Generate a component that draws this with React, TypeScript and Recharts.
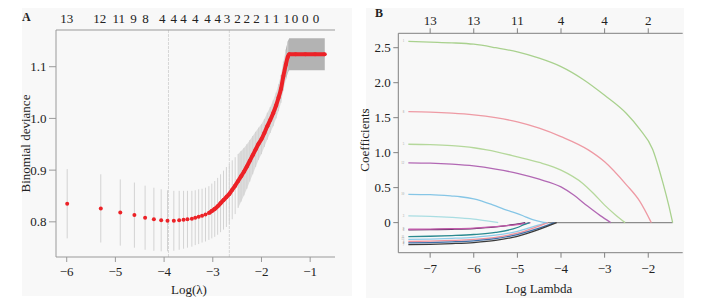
import React from 'react';
import {
  ComposedChart,
  Line,
  Scatter,
  Area,
  XAxis,
  YAxis,
  ErrorBar,
  ReferenceLine,
  Label,
} from 'recharts';

const FONT = '"Liberation Serif", "Times New Roman", serif';
const TEXT = '#222';

// ---------------- Panel A: cross-validation curve ----------------
const cvLogLambda = [
  -5.99, -5.3, -4.9, -4.61, -4.39, -4.21, -4.06, -3.93, -3.8, -3.69, -3.6, -3.52, -3.43, -3.36, -3.29,
  -3.22, -3.15, -3.08, -3.02, -2.96, -2.9, -2.84, -2.78, -2.72, -2.66, -2.6, -2.54, -2.48, -2.42,
  -2.36, -2.3, -2.24, -2.18, -2.12, -2.06, -2.0, -1.94, -1.88, -1.82, -1.76, -1.7, -1.65, -1.6,
  -1.55, -1.5, -1.46, -1.43, -1.3, -1.1, -0.9, -0.7,
];
const cvDeviance = [
  0.835, 0.826, 0.818, 0.813, 0.808, 0.805, 0.803, 0.802, 0.802, 0.803, 0.804, 0.805, 0.806, 0.808, 0.81,
  0.812, 0.814, 0.817, 0.821, 0.825, 0.83, 0.836, 0.842, 0.848, 0.854, 0.862, 0.87, 0.879, 0.888,
  0.897, 0.907, 0.918, 0.929, 0.94, 0.951, 0.96, 0.972, 0.985, 0.997, 1.01, 1.025, 1.04, 1.057,
  1.082, 1.104, 1.119, 1.124, 1.124, 1.124, 1.124, 1.124,
];
const cvSE = [
  0.067, 0.066, 0.064, 0.063, 0.062, 0.061, 0.06, 0.059, 0.058, 0.057, 0.056, 0.055, 0.054, 0.053, 0.053,
  0.052, 0.052, 0.052, 0.053, 0.054, 0.055, 0.056, 0.057, 0.058, 0.058, 0.057, 0.055, 0.052, 0.049,
  0.046, 0.043, 0.04, 0.037, 0.034, 0.031, 0.029, 0.027, 0.026, 0.025, 0.025, 0.025, 0.026, 0.027,
  0.028, 0.029, 0.03, 0.031, 0.031, 0.031, 0.031, 0.031,
];
const cvTopPositions = [
  -6.0, -5.32, -4.93, -4.63, -4.38, -4.04, -3.8, -3.6, -3.36, -3.11, -2.9, -2.71, -2.49, -2.3, -2.1,
  -1.89, -1.7, -1.48, -1.31, -1.1, -0.88,
];
const cvTopLabels = [
  '13', '12', '11', '9', '8', '4', '4', '4', '4', '4', '4', '3', '2', '2', '2', '1', '1', '1', '0', '0', '0',
];
const cvXTicks = [-6, -5, -4, -3, -2, -1];
const cvYTicks = [0.8, 0.9, 1.0, 1.1];
const cvLambdaMin = -3.91;
const cvLambda1se = -2.66;
const cvXDomain = [-6.22, -0.49];
const cvYDomain = [0.732, 1.171];

// ---------------- Panel B: coefficient paths ----------------
const pathXTicks = [-7, -6, -5, -4, -3, -2];
const pathTopLabels = ['13', '13', '11', '4', '4', '2'];
const pathYTicks = [0, 0.5, 1.0, 1.5, 2.0, 2.5];
const pathXDomain = [-7.73, -1.21];
const pathYDomain = [-0.43, 2.706];

const coef1 = [[-7.5, 2.59], [-7, 2.58], [-6.5, 2.57], [-6, 2.55], [-5.5, 2.5], [-5, 2.44], [-4.5, 2.35], [-4, 2.23], [-3.5, 2.05], [-3, 1.82], [-2.5, 1.56], [-2.2, 1.34], [-1.9, 1.05], [-1.66, 0.56], [-1.52, 0.22], [-1.44, 0]];
const coef8 = [[-7.5, 1.586], [-7, 1.58], [-6.5, 1.565], [-6, 1.54], [-5.5, 1.5], [-5, 1.44], [-4.5, 1.35], [-4, 1.23], [-3.375, 1.04], [-3, 0.87], [-2.5, 0.54], [-2.2, 0.31], [-1.93, 0]];
const coef5 = [[-7.5, 1.12], [-7, 1.115], [-6.5, 1.1], [-6, 1.07], [-5.7, 1.04], [-5, 0.94], [-4.5, 0.86], [-4, 0.75], [-3.5, 0.56], [-3.26, 0.42], [-3, 0.25], [-2.75, 0.11], [-2.53, 0]];
const coef12 = [[-7.5, 0.855], [-7, 0.85], [-6.5, 0.835], [-6, 0.81], [-5.5, 0.765], [-5, 0.705], [-4.5, 0.62], [-4, 0.51], [-3.7, 0.39], [-3.4, 0.24], [-3.1, 0.1], [-2.86, 0]];
const coef10 = [[-7.5, 0.405], [-7, 0.4], [-6.5, 0.38], [-6.31, 0.37], [-6, 0.34], [-5.55, 0.25], [-5.3, 0.19], [-5, 0.13], [-4.8, 0.08], [-4.63, 0.04], [-4.45, 0.012], [-4.33, 0]];
const coef3 = [[-7.5, 0.096], [-7, 0.09], [-6.5, 0.075], [-6, 0.05], [-5.7, 0.025], [-5.44, 0]];
const coef6 = [[-7.5, -0.105], [-7, -0.1], [-6.5, -0.095], [-6, -0.085], [-5.5, -0.062], [-5.1, -0.03], [-4.82, 0]];
const coef9 = [[-7.5, -0.095], [-7, -0.092], [-6.5, -0.087], [-6, -0.078], [-5.5, -0.058], [-5, -0.028], [-4.7, 0]];
const coef11 = [[-7.5, -0.2], [-7, -0.195], [-6.5, -0.185], [-6, -0.17], [-5.5, -0.14], [-5, -0.07], [-4.85, -0.03], [-4.72, 0]];
const coef13 = [[-7.5, -0.24], [-7, -0.235], [-6.5, -0.225], [-6, -0.21], [-5.5, -0.18], [-5, -0.125], [-4.6, -0.05], [-4.3, 0]];
const coef4 = [[-7.5, -0.27], [-7, -0.265], [-6.5, -0.255], [-6, -0.24], [-5.5, -0.21], [-5, -0.15], [-4.6, -0.07], [-4.3, 0]];
const coef2 = [[-7.5, -0.29], [-7, -0.285], [-6.5, -0.275], [-6, -0.26], [-5.5, -0.23], [-5, -0.17], [-4.5, -0.08], [-4.15, 0]];
const coef7 = [[-7.5, -0.315], [-7, -0.31], [-6.5, -0.3], [-6, -0.285], [-5.5, -0.255], [-5, -0.195], [-4.5, -0.095], [-4.1, 0]];
const coefZero = [[-4.35, 0], [-1.44, 0]];

const pathSeries = [
  { name: '3', pts: coef3, color: '#a9dde2' },
  { name: '6', pts: coef6, color: '#5c2a60' },
  { name: '9', pts: coef9, color: '#c25cab' },
  { name: '11', pts: coef11, color: '#2a8a90' },
  { name: '13', pts: coef13, color: '#8ecbe9' },
  { name: '4', pts: coef4, color: '#f0919b' },
  { name: '2', pts: coef2, color: '#3e6ea8' },
  { name: '7', pts: coef7, color: '#3b3b3b' },
  { name: '10', pts: coef10, color: '#86c6e6' },
  { name: '12', pts: coef12, color: '#b268b4' },
  { name: '5', pts: coef5, color: '#b5d89b' },
  { name: '8', pts: coef8, color: '#ee9aa4' },
  { name: '1', pts: coef1, color: '#a9d18e' },
];

// ---------------- helpers ----------------
const minus = (v: number) => String(v).replace('-', '\u2212');

const TitleY = (props: any) => {
  const { viewBox, value, cx, cy } = props;
  const y = cy ?? viewBox.y + viewBox.height / 2;
  return (
    <text x={cx} y={y} transform={`rotate(-90 ${cx} ${y})`} textAnchor="middle" dominantBaseline="central" fontFamily={FONT} fontSize={13} fill={TEXT}>
      {value}
    </text>
  );
};

const TitleX = (props: any) => {
  const { value, cx, cy } = props;
  return (
    <text x={cx} y={cy} textAnchor="middle" dominantBaseline="central" fontFamily={FONT} fontSize={13} fill={TEXT}>
      {value}
    </text>
  );
};

const tickStyle = { fill: TEXT, fontSize: 13, fontFamily: FONT };

const cvPoints = cvLogLambda.map((x, i) => ({ x, y: cvDeviance[i], err: cvSE[i] }));
const cvBarPoints = cvPoints.filter((p) => p.x < -1.45);
const cvLinePoints = cvPoints.filter((p) => p.x >= -3.1);
const cvBand = cvPoints
  .filter((p) => p.x >= -2.5 && p.x <= -1.46)
  .map((p) => ({ x: p.x, band: [p.y - p.err, p.y + p.err] }));
const cvPlateau = cvPoints
  .filter((p) => p.x >= -1.5)
  .map((p) => ({ x: p.x, band: [p.y - p.err, p.y + p.err] }));

const RED = '#ec2227';
const BOX_A = '#9a9a9a';
const BOX_B = '#808080';

const PanelA = () => (
  <ComposedChart width={360} height={298} margin={{ top: 6, right: 25, bottom: 11, left: 0 }} data={cvPoints}>
    <XAxis
      xAxisId={0}
      type="number"
      dataKey="x"
      domain={cvXDomain}
      ticks={cvXTicks}
      interval={0}
      allowDataOverflow
      tickFormatter={minus}
      height={30}
      tickSize={5}
      tickMargin={5}
      tick={tickStyle}
      stroke={BOX_A}
      axisLine={{ stroke: BOX_A }}
      tickLine={{ stroke: BOX_A }}
    >
      <Label value="Log(λ)" content={(p: any) => <TitleX {...p} cx={189} cy={289} />} />
    </XAxis>
    <XAxis
      xAxisId="top"
      orientation="top"
      type="number"
      dataKey="x"
      domain={cvXDomain}
      ticks={cvTopPositions}
      interval={0}
      allowDataOverflow
      tickFormatter={(v: number) => cvTopLabels[cvTopPositions.indexOf(v)]}
      height={24}
      tickSize={0}
      tickMargin={7}
      tickLine={false}
      tick={tickStyle}
      axisLine={{ stroke: BOX_A }}
    />
    <YAxis
      yAxisId={0}
      type="number"
      domain={cvYDomain}
      ticks={cvYTicks}
      interval={0}
      allowDataOverflow
      tickFormatter={(v: number) => v.toFixed(1)}
      width={56}
      tickSize={7}
      tickMargin={2.5}
      tick={tickStyle}
      axisLine={{ stroke: BOX_A }}
      tickLine={{ stroke: BOX_A }}
    >
      <Label value="Binomial deviance" content={(p: any) => <TitleY {...p} cx={25} />} />
    </YAxis>
    <YAxis yAxisId="right" orientation="right" width={0} tick={false} tickLine={false} axisLine={{ stroke: BOX_A }} domain={[0, 1]} />
    <ReferenceLine x={cvLambdaMin} stroke="#d6d6d6" strokeDasharray="3 1" />
    <ReferenceLine x={cvLambda1se} stroke="#d6d6d6" strokeDasharray="3 1" />
    <Area data={cvBand} dataKey="band" type="linear" stroke="none" fill="#dcdcdc" fillOpacity={1} isAnimationActive={false} />
    <Area data={cvPlateau} dataKey="band" type="linear" stroke="none" fill="#b3b3b3" fillOpacity={1} isAnimationActive={false} />
    <Scatter data={cvBarPoints} dataKey="y" shape={() => <g />} isAnimationActive={false}>
      <ErrorBar dataKey="err" direction="y" width={0} stroke="#d3d3d3" strokeWidth={1} />
    </Scatter>
    <Line data={cvLinePoints} dataKey="y" type="monotone" stroke={RED} strokeWidth={4} dot={false} isAnimationActive={false} />
    <Scatter
      data={cvPoints}
      dataKey="y"
      shape={(p: any) => <circle cx={p.cx} cy={p.cy} r={2} fill={RED} />}
      isAnimationActive={false}
    />
  </ComposedChart>
);

const PanelB = () => (
  <ComposedChart width={365} height={298} margin={{ top: 9.3, right: 34.3, bottom: 15.3, left: 0 }}>
    <XAxis
      xAxisId={0}
      type="number"
      dataKey="x"
      domain={pathXDomain}
      ticks={pathXTicks}
      interval={0}
      allowDataOverflow
      tickFormatter={minus}
      height={30}
      tickSize={5}
      tickMargin={6}
      tick={tickStyle}
      axisLine={{ stroke: BOX_B }}
      tickLine={{ stroke: BOX_B }}
    >
      <Label value="Log Lambda" content={(p: any) => <TitleX {...p} cx={187} cy={288} />} />
    </XAxis>
    <XAxis
      xAxisId="top"
      orientation="top"
      type="number"
      dataKey="x"
      domain={pathXDomain}
      ticks={pathXTicks}
      interval={0}
      allowDataOverflow
      tickFormatter={(v: number) => pathTopLabels[pathXTicks.indexOf(v)]}
      height={24}
      tickSize={5}
      tickMargin={3.3}
      tick={tickStyle}
      axisLine={{ stroke: BOX_B }}
      tickLine={{ stroke: BOX_B }}
    />
    <YAxis
      yAxisId={0}
      type="number"
      domain={pathYDomain}
      ticks={pathYTicks}
      interval={0}
      allowDataOverflow
      tickFormatter={(v: number) => (v === 0 ? '0' : v.toFixed(1))}
      width={46.3}
      tickSize={5}
      tickMargin={2.5}
      tick={tickStyle}
      axisLine={{ stroke: BOX_B }}
      tickLine={{ stroke: BOX_B }}
    >
      <Label value="Coefficients" content={(p: any) => <TitleY {...p} cx={12} cy={140} />} />
    </YAxis>
    <YAxis yAxisId="right" orientation="right" width={0} tick={false} tickLine={false} axisLine={{ stroke: BOX_B }} domain={[0, 1]} />
    <Line
      data={coefZero.map(([x, y]) => ({ x, y }))}
      dataKey="y"
      type="linear"
      stroke="#8c8c8c"
      strokeWidth={1.2}
      dot={false}
      isAnimationActive={false}
    />
    {pathSeries.map((s) => (
      <Line
        key={s.name}
        data={s.pts.map(([x, y]) => ({ x, y }))}
        dataKey="y"
        type="monotone"
        stroke={s.color}
        strokeWidth={1.3}
        dot={false}
        isAnimationActive={false}
        label={(p: any) =>
          p.index === 0 ? (
            <text key={`lab-${s.name}`} x={p.x - 4} y={p.y} fontSize={3} fill="#999" textAnchor="end" dominantBaseline="central" fontFamily={FONT}>
              {s.name}
            </text>
          ) : (
            <g key={`lab-${s.name}-${p.index}`} />
          )
        }
      />
    ))}
  </ComposedChart>
);

export default function App() {
  return (
    <div style={{ position: 'absolute', left: 0, top: 0, width: 717, height: 298, background: '#fff', overflow: 'hidden' }}>
      <div style={{ position: 'absolute', left: 22, top: 8, width: 330, height: 288, background: '#f8f8f8' }} />
      <div style={{ position: 'absolute', left: 366, top: 8, width: 318, height: 290, background: '#f8f8f8' }} />
      <div style={{ position: 'absolute', left: 0, top: 0 }}>
        <PanelA />
      </div>
      <div style={{ position: 'absolute', left: 352, top: 0 }}>
        <PanelB />
      </div>
      <span style={{ position: 'absolute', left: 22, top: 10, fontFamily: FONT, fontSize: 12, fontWeight: 'bold', color: TEXT, lineHeight: '14px' }}>A</span>
      <span style={{ position: 'absolute', left: 375, top: 6, fontFamily: FONT, fontSize: 12, fontWeight: 'bold', color: TEXT, lineHeight: '14px' }}>B</span>
    </div>
  );
}
